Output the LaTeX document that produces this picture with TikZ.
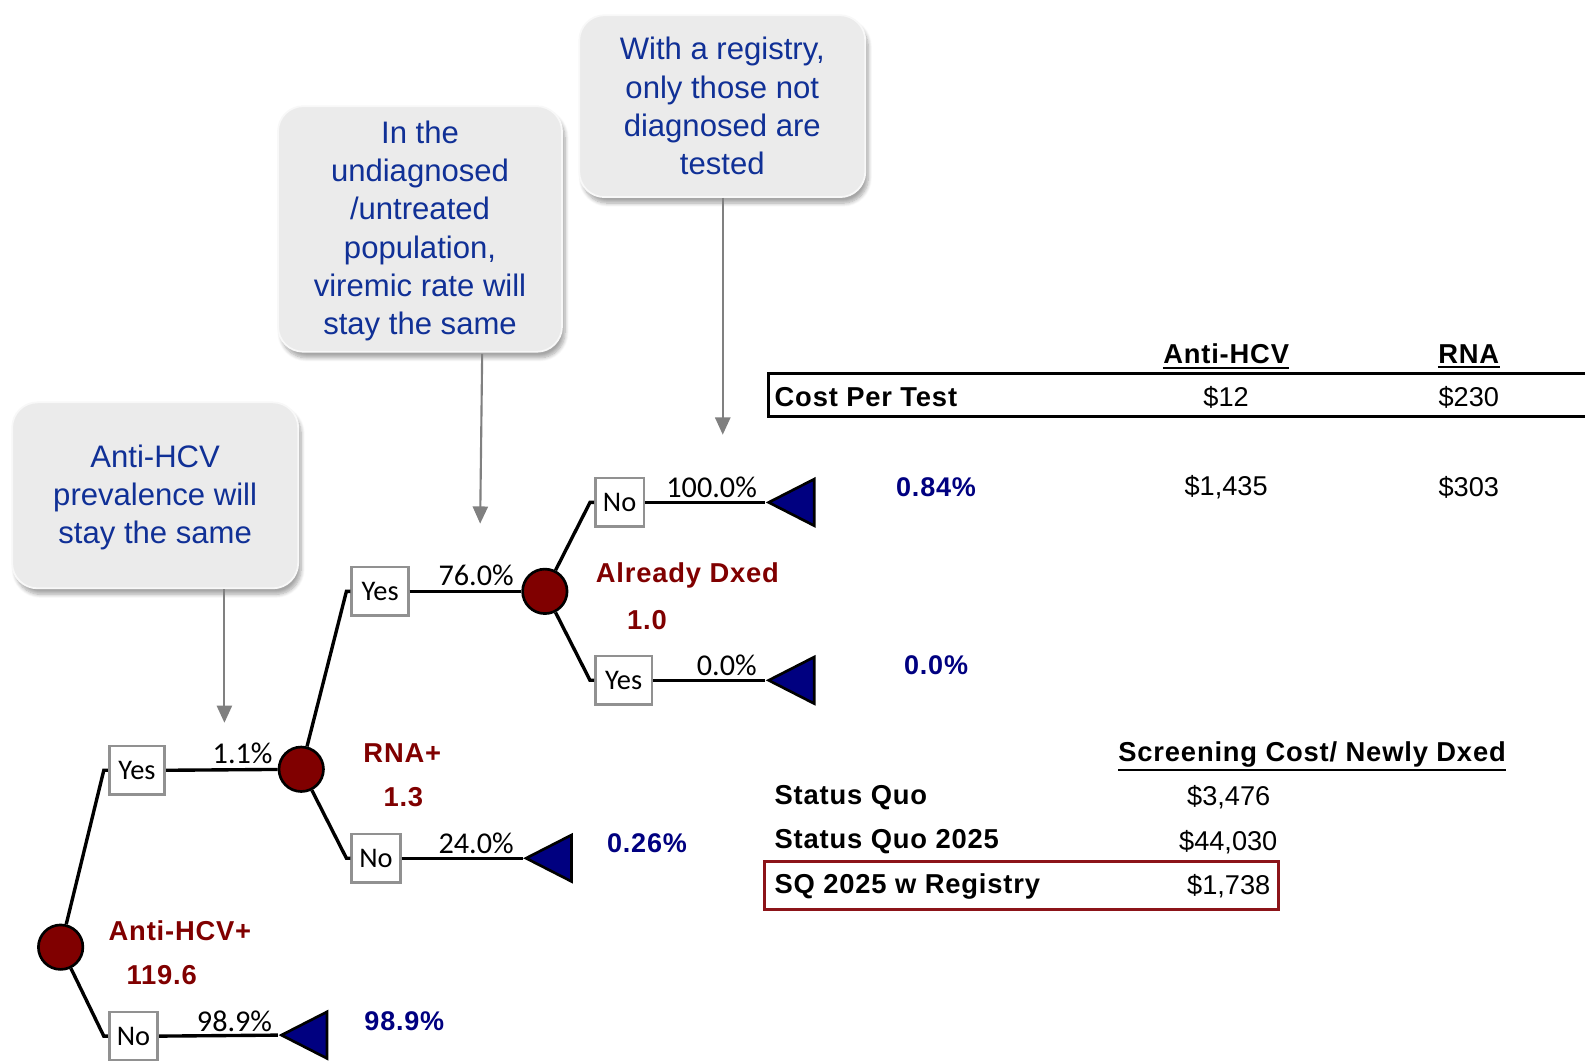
\documentclass[tikz,border=0pt]{standalone}
\usepackage{fontspec}
\setmainfont{Liberation Sans}
\newfontfamily\calfont{Carlito}
\newfontfamily\spfont[LetterSpace=3]{Liberation Sans}
\usetikzlibrary{shapes.geometric,arrows.meta,shadows.blur}
\definecolor{dred}{RGB}{128,0,0}
\definecolor{navy}{RGB}{0,0,128}
\definecolor{ctext}{RGB}{16,48,150}
\definecolor{cfill}{RGB}{235,235,235}
\definecolor{cedge}{RGB}{248,248,248}
\definecolor{boxred}{RGB}{140,20,25}
\definecolor{arrgray}{RGB}{128,128,128}
\definecolor{lblgray}{RGB}{145,145,145}
\begin{document}
\begin{tikzpicture}[x=0.02cm,y=-0.02cm,
 callout/.style={rounded corners=0.5cm, fill=cfill, draw=cedge, line width=1pt,
   blur shadow={shadow xshift=0.06cm, shadow yshift=-0.12cm, shadow blur steps=8, shadow opacity=35},
   text=ctext, align=center, font=\fontsize{17.5}{21.6}\selectfont, inner sep=0pt},
 chance/.style={circle, fill=dred, draw=black, line width=1.5pt, minimum size=0.88cm, inner sep=0pt},
 lbl/.style={draw=lblgray, line width=1.5pt, fill=white, minimum height=0.96cm, inner sep=0pt,
   font=\calfont\fontsize{16}{18}\selectfont},
 term/.style={isosceles triangle, shape border rotate=180, isosceles triangle stretches,
   minimum height=0.9cm, minimum width=0.92cm, fill=navy, draw=black, line width=1.5pt,
   inner sep=0pt, anchor=apex},
 branch/.style={draw=black, line width=1.9pt},
 pct/.style={font=\calfont\fontsize{17}{19}\selectfont, inner sep=0pt},
 rlab/.style={text=dred, font=\spfont\bfseries\fontsize{15.4}{17}\selectfont, inner sep=0pt},
 blab/.style={text=navy, font=\spfont\bfseries\fontsize{15.2}{17}\selectfont, inner sep=0pt},
 tb/.style={font=\spfont\bfseries\fontsize{15.4}{17}\selectfont, inner sep=0pt},
 tv/.style={font=\fontsize{15.3}{17}\selectfont, inner sep=0pt},
 uline/.style={draw=black, line width=1pt},
 callarrow/.style={draw=arrgray, line width=1.2pt, -{Triangle[width=0.3cm,length=0.34cm]}}
]
\useasboundingbox (0,0) rectangle (1568,1049);

% ---------- callouts ----------
\node[callout, minimum width=5.66cm, minimum height=3.68cm] (c1) at (153.5,490)
  {\rule{0pt}{15pt}Anti-HCV\\prevalence will\\stay the same};
\node[callout, minimum width=5.62cm, minimum height=4.86cm] (c2) at (415.5,226.5)
  {\rule{0pt}{15pt}In the\\undiagnosed\\/untreated\\population,\\viremic rate will\\stay the same};
\node[callout, minimum width=5.66cm, minimum height=3.6cm] (c3) at (714.5,105)
  {With a registry,\\only those not\\diagnosed are\\tested};

\coordinate (a1e) at (222,715);
\coordinate (a2s) at (477,350);
\coordinate (a2e) at (475,518);
\coordinate (a3e) at (715,430);
\draw[callarrow] (c1.south -| a1e) -- (a1e);
\draw[callarrow] (a2s) -- (a2e);
\draw[callarrow] (c3.south -| a3e) -- (a3e);

% ---------- tree nodes ----------
\node[chance] (A) at (60,937) {};
\node[lbl, minimum width=1.1cm] (y1) at (135.5,762) {Yes};
\node[lbl, minimum width=0.96cm] (n1) at (132,1025) {No};
\node[chance] (B) at (298,761) {};
\node[term] (t1) at (275,1024) {};
\node[lbl, minimum width=1.12cm] (y2) at (376,585) {Yes};
\node[lbl, minimum width=0.96cm] (n2) at (372,849) {No};
\node[chance] (C) at (539,585) {};
\node[term] (t2) at (517,849) {};
\node[lbl, minimum width=0.96cm] (n3) at (613,497) {No};
\node[lbl, minimum width=1.12cm] (y3) at (617,673) {Yes};
\node[term] (t3) at (757,497) {};
\node[term] (t4) at (757,673) {};

% ---------- branches ----------
\draw[branch] (A) -- ([xshift=-0.08cm]y1.west) -- (y1.west);
\draw[branch] (A) -- ([xshift=-0.08cm]n1.west) -- (n1.west);
\draw[branch] (y1.east) -- (B);
\draw[branch] (n1.east) -- (t1.apex);
\draw[branch] (B) -- ([xshift=-0.08cm]y2.west) -- (y2.west);
\draw[branch] (B) -- ([xshift=-0.08cm]n2.west) -- (n2.west);
\draw[branch] (y2.east) -- (C);
\draw[branch] (n2.east) -- (t2.apex);
\draw[branch] (C) -- ([xshift=-0.08cm]n3.west) -- (n3.west);
\draw[branch] (C) -- ([xshift=-0.08cm]y3.west) -- (y3.west);
\draw[branch] (n3.east) -- (t3.apex);
\draw[branch] (y3.east) -- (t4.apex);

% ---------- probabilities ----------
\node[pct] (p1) at (240,745) {1.1\%};
\node[pct] (p2) at (232,1010) {98.9\%};
\node[pct] (p3) at (471,569) {76.0\%};
\node[pct] (p4) at (471,834) {24.0\%};
\node[pct] (p5) at (704,482) {100.0\%};
\node[pct] (p6) at (719,658) {0.0\%};

% ---------- node labels ----------
\node[rlab] (r1) at (178,921) {Anti-HCV+};
\node[rlab] (r2) at (160,965) {119.6};
\node[rlab] (r3) at (398,745) {RNA+};
\node[rlab] (r4) at (399,789) {1.3};
\node[rlab] (r5) at (680,569) {Already Dxed};
\node[rlab] (r6) at (640,613) {1.0};

\node[blab] (b1) at (400,1010) {98.9\%};
\node[blab] (b2) at (640,834) {0.26\%};
\node[blab] (b3) at (926,482) {0.84\%};
\node[blab] (b4) at (926,658) {0.0\%};

% ---------- cost table ----------
\node[tb] (h1) at (1213,350) {Anti-HCV};
\node[tb] (h2) at (1453,350) {RNA};
\draw[uline] ([yshift=-2pt]h1.south west) -- ([yshift=-2pt]h1.south east);
\draw[uline] ([yshift=-2pt]h2.south west) -- ([yshift=-2pt]h2.south east);
\node[draw=black, line width=1.7pt, minimum width=16.4cm, minimum height=0.86cm, inner sep=0pt] (costbox) at (1170,390.5) {};
\node[tb, anchor=west] (cpt) at (766,393) {Cost Per Test};
\node[tv] (v1) at (1213,393) {\$12};
\node[tv] (v2) at (1453,393) {\$230};
\node[tv] (v3) at (1213,482) {\$1,435};
\node[tv] (v4) at (1453,482) {\$303};

% ---------- screening table ----------
\node[tb] (h3) at (1298,746) {Screening Cost/ Newly Dxed};
\draw[uline] ([yshift=-1.5pt]h3.south west) -- ([yshift=-1.5pt]h3.south east);
\node[draw=boxred, line width=1.7pt, minimum width=10.18cm, minimum height=0.96cm, inner sep=0pt] (regbox) at (1010.5,876) {};
\node[tb, anchor=west] (s1) at (766,789) {Status Quo};
\node[tb, anchor=west] (s2) at (766,833) {Status Quo 2025};
\node[tb, anchor=west] (s3) at (766,877) {SQ 2025 w Registry};
\node[tv, anchor=east] (sv1) at (1257,789) {\$3,476};
\node[tv, anchor=east] (sv2) at (1264,833) {\$44,030};
\node[tv, anchor=east] (sv3) at (1257,877) {\$1,738};
\end{tikzpicture}
\end{document}
